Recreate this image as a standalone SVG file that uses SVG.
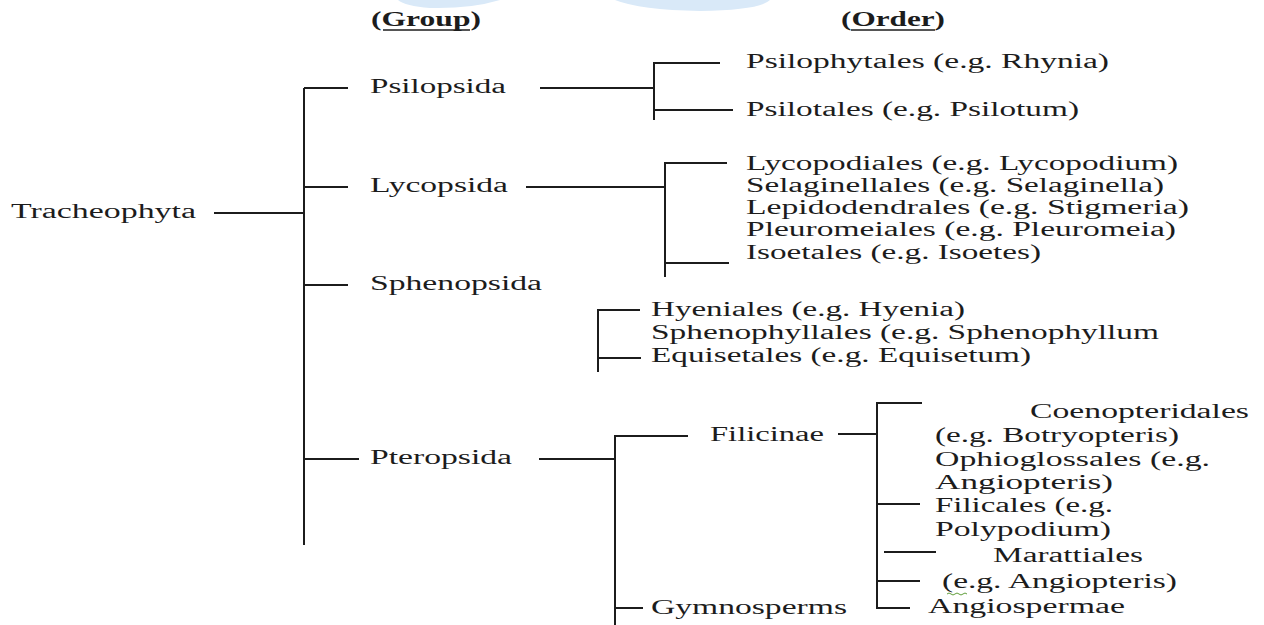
<svg xmlns="http://www.w3.org/2000/svg" width="1264" height="625" viewBox="0 0 1264 625">
<style>
  .t { font-family: "Liberation Serif", "DejaVu Serif", serif; font-size: 20px; fill: #1c1c1c; }
  .h { font-family: "Liberation Serif", "DejaVu Serif", serif; font-size: 20px; font-weight: bold; fill: #1c1c1c; }
  .c { fill: none; stroke: #1c1c1c; stroke-width: 2; }
  .u { stroke: #1c1c1c; stroke-width: 1.5; }
</style>
<rect width="1264" height="625" fill="#ffffff"/>
<g id="watermark" fill="#d9e9f8">
  <path d="M398 0 H500 Q470 9 430 8 Q405 6 398 0 Z"/>
  <path d="M615 0 H770 Q760 10 700 11 Q640 10 615 0 Z"/>
</g>
<g id="headers">
  <text class="h" x="371" y="26" textLength="110" lengthAdjust="spacingAndGlyphs">(Group)</text>
  <line class="u" x1="383" y1="30" x2="470" y2="30"/>
  <text class="h" x="841" y="26" textLength="104" lengthAdjust="spacingAndGlyphs">(Order)</text>
  <line class="u" x1="851" y1="30" x2="935" y2="30"/>
</g>
<g id="connectors">
  <path class="c" d="M304 88 V545"/>
  <path class="c" d="M304 88 H348"/>
  <path class="c" d="M304 187 H348"/>
  <path class="c" d="M214 213 H304"/>
  <path class="c" d="M304 285 H348"/>
  <path class="c" d="M304 459 H359"/>
  <path class="c" d="M540 88 H654"/>
  <path class="c" d="M720 63 H654 V120 M654 110 H733"/>
  <path class="c" d="M526 187 H665"/>
  <path class="c" d="M727 163 H665 V277 M665 263 H729"/>
  <path class="c" d="M640 310 H598 V372 M598 358 H641"/>
  <path class="c" d="M539 459 H615"/>
  <path class="c" d="M688 436 H615 V625 M615 608 H643"/>
  <path class="c" d="M838 434 H877"/>
  <path class="c" d="M922 403 H877 V608 H910 M877 504 H920 M884 552 H936 M877 581 H920"/>
</g>
<g id="tracheophyta"><text class="t" x="11" y="218" textLength="185" lengthAdjust="spacingAndGlyphs">Tracheophyta</text></g>
<g id="psilopsida"><text class="t" x="370" y="93" textLength="136" lengthAdjust="spacingAndGlyphs">Psilopsida</text></g>
<g id="lycopsida"><text class="t" x="370" y="192" textLength="138" lengthAdjust="spacingAndGlyphs">Lycopsida</text></g>
<g id="sphenopsida"><text class="t" x="370" y="290" textLength="172" lengthAdjust="spacingAndGlyphs">Sphenopsida</text></g>
<g id="pteropsida"><text class="t" x="370" y="464" textLength="142" lengthAdjust="spacingAndGlyphs">Pteropsida</text></g>
<g id="psilophytales"><text class="t" x="746" y="68" textLength="363" lengthAdjust="spacingAndGlyphs">Psilophytales (e.g. Rhynia)</text></g>
<g id="psilotales"><text class="t" x="746" y="116" textLength="333" lengthAdjust="spacingAndGlyphs">Psilotales (e.g. Psilotum)</text></g>
<g id="lycopodiales"><text class="t" x="746" y="170" textLength="432" lengthAdjust="spacingAndGlyphs">Lycopodiales (e.g. Lycopodium)</text></g>
<g id="selaginellales"><text class="t" x="746" y="192" textLength="418" lengthAdjust="spacingAndGlyphs">Selaginellales (e.g. Selaginella)</text></g>
<g id="lepidodendrales"><text class="t" x="746" y="214" textLength="443" lengthAdjust="spacingAndGlyphs">Lepidodendrales (e.g. Stigmeria)</text></g>
<g id="pleuromeiales"><text class="t" x="746" y="236" textLength="430" lengthAdjust="spacingAndGlyphs">Pleuromeiales (e.g. Pleuromeia)</text></g>
<g id="isoetales"><text class="t" x="746" y="259" textLength="295" lengthAdjust="spacingAndGlyphs">Isoetales (e.g. Isoetes)</text></g>
<g id="hyeniales"><text class="t" x="651" y="316" textLength="314" lengthAdjust="spacingAndGlyphs">Hyeniales (e.g. Hyenia)</text></g>
<g id="sphenophyllales"><text class="t" x="651" y="339" textLength="508" lengthAdjust="spacingAndGlyphs">Sphenophyllales (e.g. Sphenophyllum</text></g>
<g id="equisetales"><text class="t" x="651" y="362" textLength="380" lengthAdjust="spacingAndGlyphs">Equisetales (e.g. Equisetum)</text></g>
<g id="filicinae"><text class="t" x="710" y="441" textLength="114" lengthAdjust="spacingAndGlyphs">Filicinae</text></g>
<g id="gymnosperms"><text class="t" x="651" y="614" textLength="196" lengthAdjust="spacingAndGlyphs">Gymnosperms</text></g>
<g id="coenopteridales">
  <text class="t" x="1030" y="418" textLength="219" lengthAdjust="spacingAndGlyphs">Coenopteridales</text>
  <text class="t" x="935" y="442" textLength="244" lengthAdjust="spacingAndGlyphs">(e.g. Botryopteris)</text>
</g>
<g id="ophioglossales">
  <text class="t" x="935" y="466" textLength="275" lengthAdjust="spacingAndGlyphs">Ophioglossales (e.g.</text>
  <text class="t" x="935" y="489" textLength="178" lengthAdjust="spacingAndGlyphs">Angiopteris)</text>
</g>
<g id="filicales">
  <text class="t" x="935" y="512" textLength="178" lengthAdjust="spacingAndGlyphs">Filicales (e.g.</text>
  <text class="t" x="935" y="536" textLength="176" lengthAdjust="spacingAndGlyphs">Polypodium)</text>
</g>
<g id="marattiales">
  <text class="t" x="993" y="562" textLength="150" lengthAdjust="spacingAndGlyphs">Marattiales</text>
  <text class="t" x="942" y="588" textLength="235" lengthAdjust="spacingAndGlyphs">(e.g. Angiopteris)</text>
  <path d="M947 594 q2 -2 4 0 t4 0 t4 0 t4 0 t4 0" fill="none" stroke="#5f9e3a" stroke-width="1"/>
</g>
<g id="angiospermae"><text class="t" x="928" y="613" textLength="197" lengthAdjust="spacingAndGlyphs">Angiospermae</text></g>
</svg>
